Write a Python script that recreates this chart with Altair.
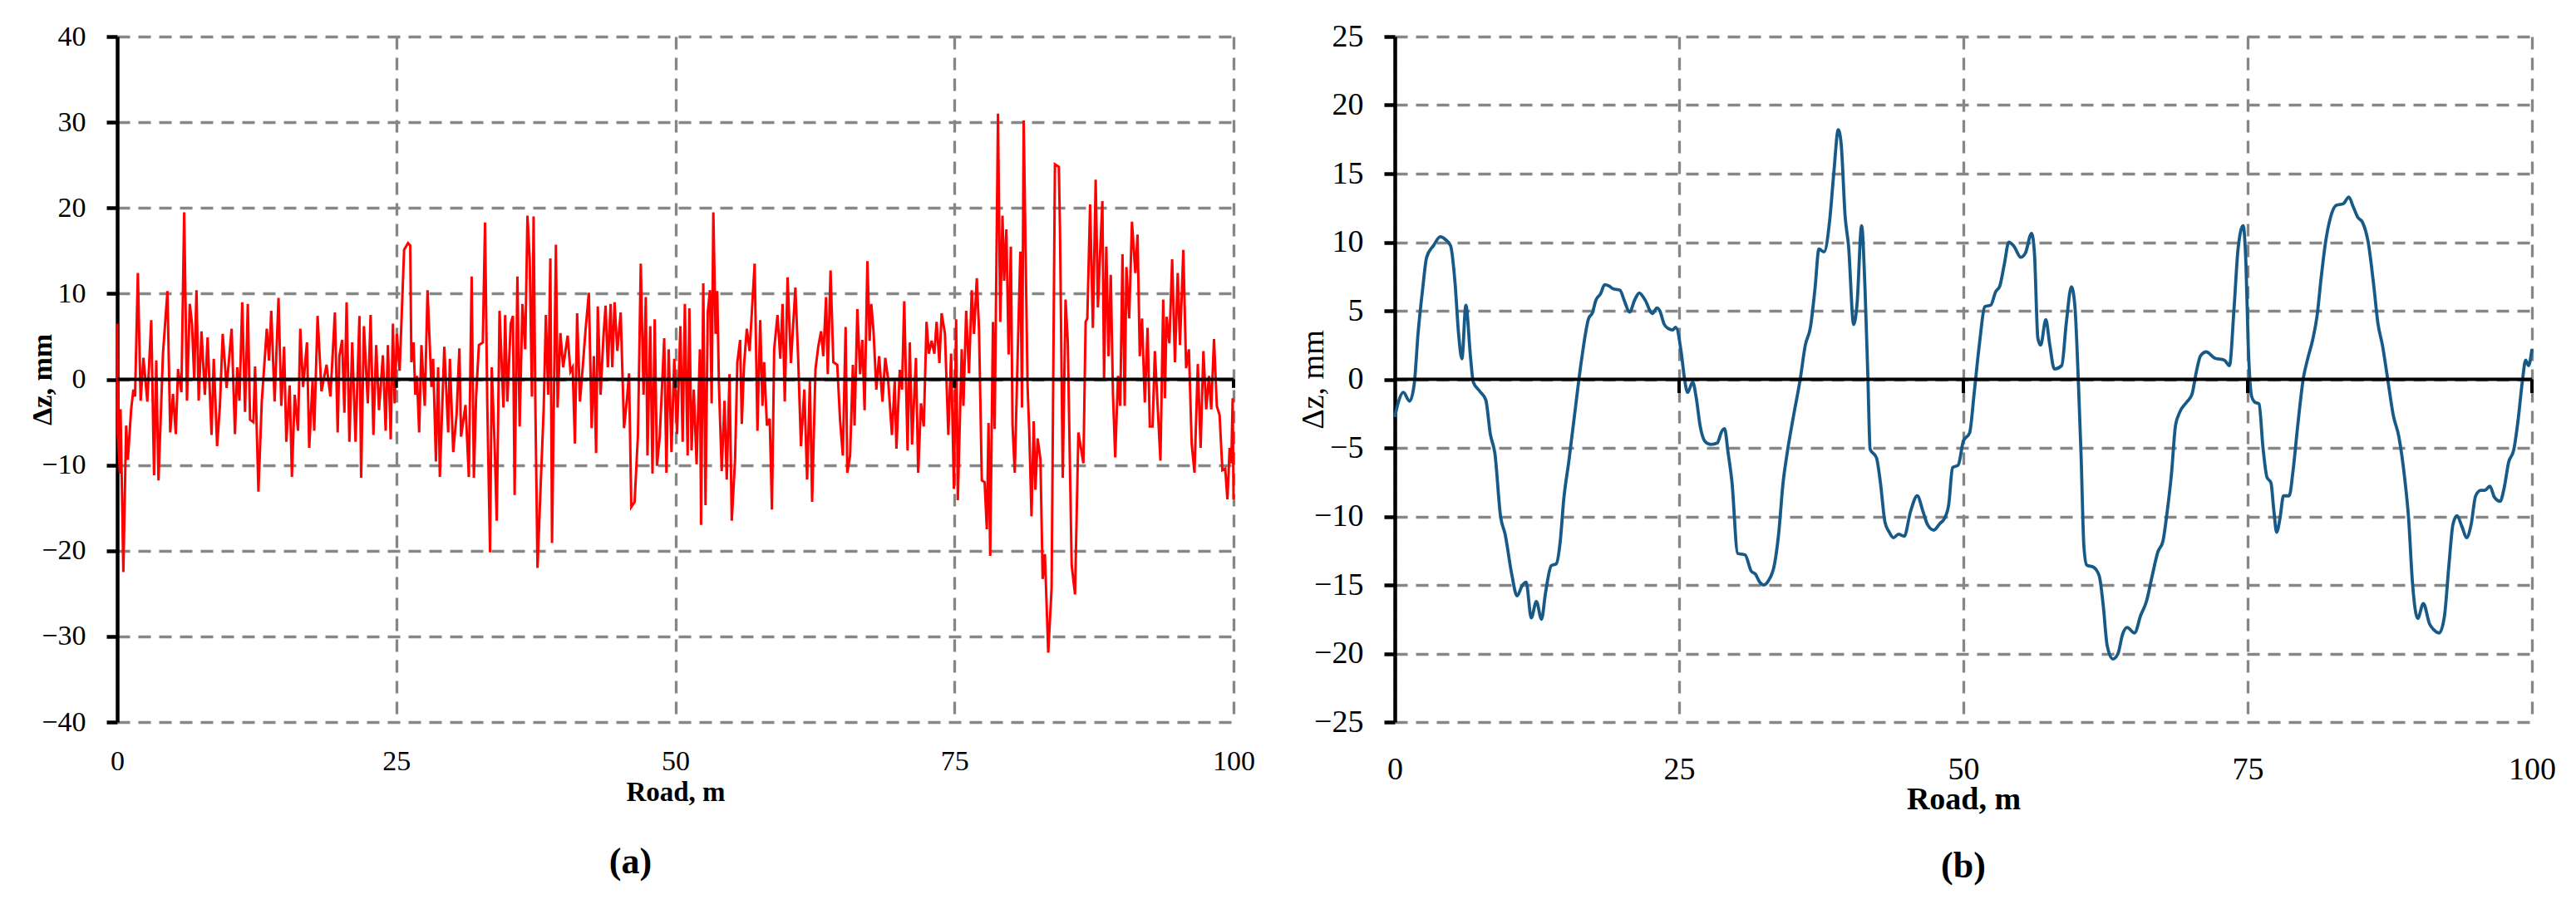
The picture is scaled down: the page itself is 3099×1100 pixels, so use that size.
import altair as alt
import pandas as pd

# ---------------- data ----------------
# panel (a): measured road profile deviation
left_x = [0.0,0.05,0.25,0.3,0.55,0.8,0.95,1.25,1.45,1.6,
1.85,2.1,2.35,2.7,3.05,3.3,3.5,3.7,4.1,4.5,
4.75,5.0,5.25,5.45,5.75,6.0,6.25,6.5,6.7,6.9,
7.1,7.3,7.55,7.85,8.1,8.45,8.65,8.95,9.2,9.45,
9.8,10.25,10.55,10.75,10.95,11.2,11.45,11.7,11.9,12.2,
12.35,12.65,12.95,13.4,13.6,13.8,14.1,14.45,14.7,14.95,
15.15,15.45,15.65,15.9,16.2,16.4,16.65,17.0,17.2,17.5,
17.65,17.95,18.3,18.75,19.1,19.5,19.75,19.9,20.15,20.35,
20.55,20.8,21.05,21.35,21.7,21.85,22.1,22.45,22.7,22.95,
23.2,23.45,23.8,24.05,24.25,24.5,24.7,24.85,25.05,
25.3,25.7,26.05,26.25,26.35,26.55,26.7,26.85,27.05,27.25,
27.55,27.8,28.15,28.3,28.55,28.75,28.9,29.3,29.65,29.8,
30.1,30.4,30.65,30.8,31.2,31.5,31.75,31.95,32.15,32.4,
32.75,32.95,33.15,33.4,33.55,33.8,34.0,34.25,34.6,34.75,
34.95,35.25,35.45,35.6,35.85,36.05,36.3,36.55,36.75,36.95,
37.15,37.3,37.45,37.65,37.95,38.2,38.4,38.6,38.8,38.95,
39.3,39.45,39.7,39.95,40.35,40.6,40.8,41.0,41.2,41.45,
41.7,41.95,42.25,42.5,42.7,42.9,43.05,43.3,43.55,43.75,
43.95,44.2,44.35,44.55,44.8,45.1,45.4,45.65,45.85,46.05,
46.35,46.65,46.9,47.15,47.35,47.5,47.75,47.95,48.15,48.35,
48.6,49.0,49.2,49.4,49.65,49.9,
50.15,50.45,50.65,50.85,51.1,51.25,51.45,51.65,51.9,52.2,
52.3,52.5,52.7,52.9,53.1,53.25,53.4,53.6,53.75,53.9,
54.15,54.4,54.6,54.85,55.05,55.35,55.55,55.8,55.95,56.15,
56.4,56.65,57.1,57.35,57.6,57.8,57.95,58.2,58.45,58.65,
58.85,59.15,59.4,59.6,59.8,60.05,60.35,60.75,61.0,61.25,
61.55,61.8,62.05,62.25,62.55,62.8,63.05,63.25,63.5,63.65,
63.9,64.15,64.5,64.75,65.0,65.25,65.4,65.65,65.9,66.05,
66.3,66.55,66.75,66.95,67.2,67.4,67.55,67.75,68.0,68.25,
68.55,68.8,69.05,69.4,69.65,69.8,70.1,70.3,70.5,70.8,
71.0,71.2,71.55,71.75,72.0,72.25,72.5,72.7,72.95,73.2,
73.4,73.65,73.85,74.15,74.45,74.7,74.95,75.15,75.3,
75.65,75.8,76.05,76.3,76.55,76.75,77.0,77.2,77.45,77.7,
77.9,78.05,78.2,78.45,78.6,78.9,79.1,79.3,79.45,79.65,
79.85,80.05,80.2,80.4,80.65,80.9,81.05,81.2,81.55,81.7,
81.9,82.1,82.25,82.45,82.7,82.9,83.1,83.4,83.7,84.0,
84.35,84.45,84.7,84.95,85.15,85.5,85.8,86.1,86.55,86.75,
86.9,87.15,87.4,87.65,87.85,88.05,88.25,88.4,88.6,88.8,
89.0,89.2,89.4,89.65,89.85,90.05,90.25,90.4,90.65,90.9,
91.2,91.4,91.6,91.8,92.05,92.3,92.5,92.75,92.95,93.2,
93.45,93.7,93.85,94.0,94.25,94.5,94.75,95.0,95.2,95.5,
95.75,96.0,96.25,96.5,96.8,97.05,97.3,97.55,97.8,98.0,
98.25,98.5,98.75,99.0,99.25,99.45,99.65,99.8,99.92,100.0]

left_y = [6.5,-6.4,-11,-3.5,-22.5,-5.4,-9.4,-3.5,-1.2,-2,
12.4,-2.5,2.5,-2.6,6.9,-11.2,2.2,-11.8,3,10.3,
-6.2,-1.7,-6.4,1.2,-1.5,19.5,-2.5,8.8,6.5,0,
10.4,-2.5,5.6,-1.8,4.9,-6.5,2.4,-7.8,-3.1,5.3,
-1,5.9,-6.4,1.4,-2.5,9,-3.8,8.8,-4.7,-5,
1.5,-13.1,-2.6,5.9,2.2,8,-2.6,9.5,-3.1,3.8,
-7.3,-0.7,-11.4,-1.8,-6,5.9,-0.9,4.3,-8,-0.2,
-6,7.4,-1.4,1.7,-2,7.8,-6.2,2.7,4.6,-3.9,
9,-7.3,4.3,-7.3,7.4,-11.5,6.2,-2.8,7.5,-6.5,
4,-3.6,2.8,-6,4,-7,6.5,-2.8,5.3,
1,15.1,15.9,15.6,2,4.3,-1.8,0.4,-6.2,4,
-3.1,10.4,-0.9,2.4,-9.6,1.4,-11.4,3.8,-6.2,2.4,
-8.5,-4.1,3.6,-6.7,-3,-11.4,12,-11.5,-2,4,
4.3,18.3,-2.8,-20.2,1.4,-7.3,-16.5,8,-3.3,7.5,
-2.6,6.5,7.4,-13.5,12,-5.5,8.8,3.5,19.1,14,
-2,19,-2.2,-22,-11.8,-3.6,7.5,-1.8,14.1,-19.1,
15.7,-3.3,5.4,1.4,5.1,0.9,1.4,-7.5,7.7,-2.6,
1.4,5.7,10.1,-5.7,2.7,-8.6,8.5,-1.8,4.9,8.6,
1.4,8.8,1.4,9,3.3,7.8,-5.7,-2.5,0.7,-14.9,
-14.3,-6.4,13.5,-1.8,9.6,-8.9,6.2,-11,7,-10.1,
-6.7,4.8,-10.9,3.5,-8.5,2.4,
-6.4,6.2,-7.3,8.8,-8.9,8.3,-8.3,-1.2,-9.9,3.5,
-17,11.2,-14.7,7.8,10.4,-2.8,19.5,5.3,10.3,-0.5,
-10.7,-2.5,-11.7,0.6,-16.5,-9.3,2,4.6,-5.2,1.7,
5.9,3.3,13.5,-6,6.9,-3.1,2,-5.4,-4.6,-15.2,
3.5,7.5,2.4,8.8,-2.6,11.9,1.9,10.7,2.4,-7.8,
-1.2,-11.7,-0.2,-14.3,1.2,3.8,5.6,2.7,9.6,0.6,
12.7,2,1.7,-4.7,-8.9,6.1,-10.9,-8.9,1.7,-5.4,
8.2,0.6,4.6,-3.6,13.8,4.5,8.8,5.6,-1.2,2.7,
-2.6,2.5,0.1,-6.5,-0.2,-8.1,1.1,-1.2,9.1,-8.3,
4.3,-7.6,2.5,-10.9,-2.8,-5.5,6.7,3,4.5,3,
6.7,1.9,7.7,5.3,-6.5,3,-12.8,7,-14.1,
3.5,-3.1,8,0.7,10.4,5.3,11.8,5.8,-11.8,-12,
-17.5,-5.1,-20.6,6.7,-5.8,31,6.7,19.1,11.5,17.5,
2.9,15.5,-5.3,-10.9,2.2,14.9,-3.3,30.2,-0.9,-6,
-16,-4.9,-12.9,-6.9,-9.3,-23.3,-20.4,-31.9,-24.4,25.1,
24.8,17.7,-11.5,9.3,4.4,-21.7,-25.1,-6.2,-9.8,6.7,
7.1,20.4,6,23.3,8.4,14.9,20.8,0,15.5,2.7,
12.2,-1.8,-9.1,0.4,-3.1,14.6,-3.1,13.1,7.1,18.4,
12.4,16.9,2.7,7.1,-2.7,6,-5.5,-5.5,3.3,-3.1,
-9.5,9.3,-2.2,7.3,4.2,14,2,12.4,4,15.1,
1.3,3.5,-7.5,-10.9,1.8,-8,3.3,-3.5,0.4,-3.5,
4.7,-3.1,-4.2,-10.6,-10.4,-14,-8,-9.8,-2.2,-14]

# panel (b): smoothed profile
right_x = [0.0,0.3,0.75,1.3,1.7,2.05,2.45,2.8,3.4,4.0,
4.45,4.9,5.3,5.6,5.9,6.25,6.65,6.9,7.45,8.0,
8.4,8.8,9.3,9.7,10.3,10.75,11.2,11.55,12.0,12.45,
12.9,13.25,13.75,14.2,14.55,14.85,15.3,15.85,16.4,17.05,
17.35,17.7,18.1,18.45,18.85,19.2,19.8,20.2,20.65,21.1,
21.5,22.0,22.65,23.05,23.3,23.7,24.05,24.45,24.7,25.2,
25.45,25.75,26.2,26.5,26.85,27.3,27.8,28.35,28.75,29.0,
29.3,29.65,30.15,30.8,31.35,31.7,32.1,32.45,32.85,33.4,
33.75,34.15,34.5,35.1,35.65,36.1,36.55,36.95,37.3,37.75,
38.25,38.6,39.0,39.25,39.6,39.9,40.35,40.65,41.05,41.35,
41.6,41.8,42.35,42.7,43.1,43.45,43.85,44.3,44.8,45.35,
45.95,46.45,46.85,47.4,47.95,48.3,48.7,49.05,49.55,50.0,
50.55,50.95,51.4,51.9,52.4,52.85,53.2,53.6,54.0,54.45,
55.05,55.45,56.0,56.25,56.55,56.8,57.25,57.6,58.0,58.65,
59.05,59.5,59.8,60.1,60.35,60.6,60.85,61.45,61.95,62.3,
62.65,63.15,63.6,64.0,64.4,65.05,65.6,66.1,66.6,67.1,
67.55,67.9,68.3,68.65,69.0,69.65,70.1,70.5,70.85,71.35,
72.1,72.95,73.4,73.8,74.15,74.6,74.85,75.05,75.35,75.6,
76.0,76.35,76.7,77.05,77.3,77.55,77.85,78.15,78.65,79.0,
79.4,79.9,80.25,80.75,81.1,81.45,81.85,82.3,82.8,83.4,
83.9,84.25,84.7,85.1,85.6,86.1,86.45,86.85,87.3,87.8,
88.3,88.8,89.15,89.5,89.95,90.45,91.0,91.35,91.85,92.3,
92.7,93.05,93.4,93.85,94.25,94.65,95.05,95.5,95.85,96.3,
96.7,97.2,97.55,97.95,98.4,98.8,99.15,99.45,99.7,100.0]

right_y = [-2.75,-1.7,-0.95,-1.6,-0.4,3.4,6.6,8.9,9.75,10.4,
10.2,9.75,7,3.4,1.5,5.4,1.7,-0.2,-0.85,-1.5,
-4,-5.4,-10,-11.3,-14.3,-15.8,-15.05,-14.8,-17.4,-16.2,
-17.5,-15.6,-13.6,-13.45,-11.8,-8.8,-6,-2.3,1.3,4.45,
4.8,5.8,6.25,6.9,6.8,6.6,6.5,5.7,4.9,5.8,
6.3,5.8,4.8,5.2,5,4,3.7,3.6,3.8,1.9,
0.2,-0.95,-0.2,-1.3,-3.4,-4.55,-4.75,-4.65,-3.8,-3.6,
-5.3,-7.5,-12.7,-12.8,-14,-14.2,-14.8,-15,-14.7,-13.45,
-11.3,-7.5,-5.4,-2.5,0,2.5,3.8,6.6,9.5,9.3,
11.65,15,18.2,17.2,11.9,9.75,4,5.5,11.2,6.6,
0.2,-5.1,-5.7,-7.5,-10.4,-11.1,-11.55,-11.3,-11.45,-9.65,
-8.5,-9.65,-10.6,-11,-10.5,-10.2,-9.2,-6.45,-6.25,-4.5,
-3.9,-1,2.5,5.3,5.4,6.4,6.8,8.4,10,9.7,
8.9,9.2,10.65,9.2,3,2.5,4.35,2.5,0.75,1,
4.1,6.75,5.4,0.1,-5.5,-12.2,-13.55,-13.7,-14.35,-16.5,
-19.45,-20.4,-20,-18.6,-18.1,-18.5,-17.2,-16.2,-14.35,-12.6,
-11.8,-9.8,-6.9,-3.4,-2.45,-1.65,-1.1,0.6,1.7,2,
1.55,1.4,1,5.15,9.45,11.2,8.4,2.5,-1.25,-1.65,
-1.8,-5,-7.15,-7.55,-9.55,-11.15,-10.1,-8.5,-8.5,-6.6,
-3.4,0.1,1.4,3,4.6,7.3,10,11.85,12.7,12.8,
13.3,12.65,11.8,11.45,10,6.75,4.1,2.5,0.1,-2.6,
-4.2,-7.15,-10.1,-14.9,-17.45,-16.35,-17.85,-18.25,-18.5,-17.3,
-13.55,-10.6,-9.95,-10.75,-11.55,-10.6,-8.5,-8.1,-8.1,-7.8,
-8.6,-8.9,-7.95,-6.05,-5.15,-2.85,-0.2,1.4,1,2.2]

x_ticks = [0, 25, 50, 75, 100]
left_y_ticks = [-40, -30, -20, -10, 0, 10, 20, 30, 40]
right_y_ticks = [-25, -20, -15, -10, -5, 0, 5, 10, 15, 20, 25]
zero_marks = [25, 50, 75, 100]

# ---------------- styling ----------------
FONT = "Liberation Serif"
GRID = "#868686"
DASH = [15, 10]


def panel(xs, ys, color, ydom, yticks, w, h, lab_size, xtitle_size, ytitle_size,
          ytitle_weight, ytitle_x, xtitle_y, xlab_pad, line_w, interp, tag, tag_dx,
          tag_offset):
    df = pd.DataFrame({"road": xs, "dz": ys})
    zero_df = pd.DataFrame({"dz": [0]})
    mark_df = pd.DataFrame({"road": zero_marks, "dz": [0] * len(zero_marks),
                            "dz2": [-1] * len(zero_marks)})

    x_enc = alt.X("road:Q",
                  scale=alt.Scale(domain=[0, 100], nice=False, zero=False),
                  axis=alt.Axis(values=x_ticks, grid=True, gridColor=GRID,
                                gridDash=DASH, gridWidth=3.3, domain=False,
                                ticks=False, tickSize=0, labelFlush=False,
                                labelOverlap=False, labelFont=FONT,
                                labelFontSize=lab_size, labelColor="black",
                                labelPadding=xlab_pad, title="Road, m",
                                titleFont=FONT, titleFontSize=xtitle_size,
                                titleFontWeight="bold", titleColor="black",
                                titleY=xtitle_y, titleBaseline="middle"))
    y_enc = alt.Y("dz:Q",
                  scale=alt.Scale(domain=ydom, nice=False, zero=False),
                  axis=alt.Axis(values=yticks, grid=True, gridColor=GRID,
                                gridDash=DASH, gridWidth=3.3, domain=True,
                                domainColor="black", domainWidth=4.5,
                                ticks=True, tickColor="black", tickSize=13,
                                tickWidth=4.5, labelFont=FONT,
                                labelFontSize=lab_size, labelColor="black",
                                labelPadding=25, labelOverlap=False,
                                title="Δz, mm", titleFont=FONT,
                                titleFontSize=ytitle_size,
                                titleFontWeight=ytitle_weight,
                                titleColor="black", titleX=ytitle_x,
                                titleY=h / 2, titleBaseline="middle",
                                titleAlign="center"))

    line = alt.Chart(df).mark_line(color=color, strokeWidth=line_w,
                                   interpolate=interp).encode(x=x_enc, y=y_enc)
    zero = alt.Chart(zero_df).mark_rule(color="black", strokeWidth=4).encode(y=y_enc)
    marks = alt.Chart(mark_df).mark_rule(color="black", strokeWidth=4).encode(
        x=x_enc, y=y_enc, y2=alt.Y2("dz2"))
    return alt.layer(line, zero, marks).properties(
        width=w, height=h,
        title=alt.TitleParams(text=tag, orient="bottom", anchor="middle",
                              font=FONT, fontSize=44, fontWeight="bold",
                              color="black", offset=tag_offset, dx=tag_dx))


left = panel(left_x, left_y, "#ff0000", [-40, 40], left_y_ticks, 1343, 825,
             34, 33, 34, "bold", -90, 84, 30, 3.0, "linear", "(a)", -54, 46)
right = panel(right_x, right_y, "#175a88", [-25, 25], right_y_ticks, 1368, 825,
              38, 38, 38, "normal", -98, 93, 38, 3.8, "monotone", "(b)", 0, 40)

chart = alt.hconcat(left, right, spacing=50).properties(
    padding={"left": 25, "top": 16, "right": 0, "bottom": 0},
    background="white",
).configure_view(stroke="transparent")

chart.save("out.html", embed_options={"renderer": "svg", "actions": False})
